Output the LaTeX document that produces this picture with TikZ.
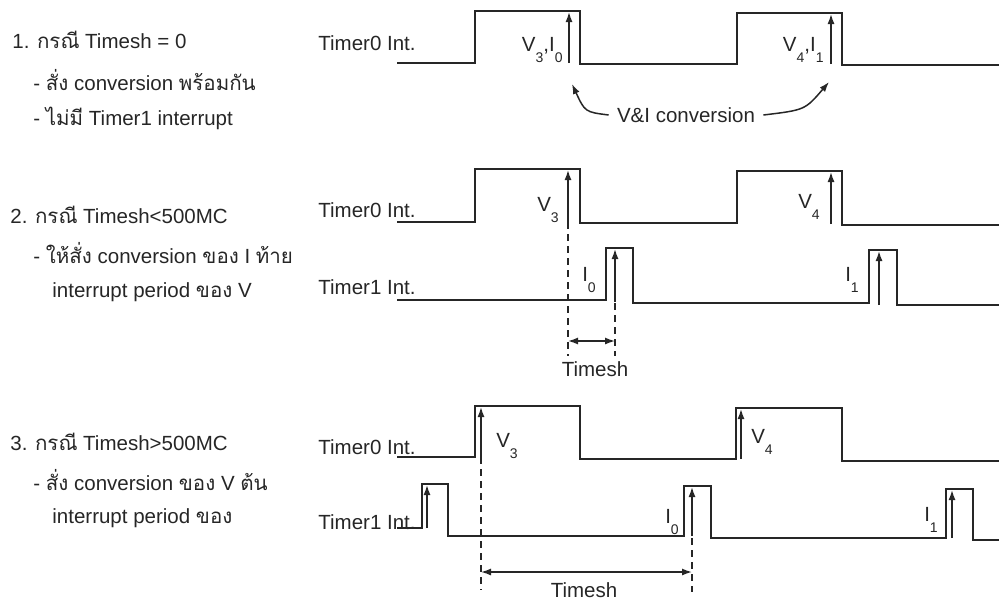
\documentclass[tikz,border=0pt]{standalone}
\usepackage{fontspec}
\setmainfont{Liberation Sans}
\newfontfamily\thai[Script=Thai]{Loma}
\usetikzlibrary{arrows.meta}
\newcommand{\low}[1]{\raisebox{-1ex}{\scriptsize #1}}
\begin{document}
\begin{tikzpicture}[x=0.5pt,y=-0.5pt,
  wave/.style={line width=0.75pt,draw=black!85},
  trig/.style={line width=0.75pt,draw=black!85,-{Latex[length=5pt,width=3.5pt]}},
  guide/.style={line width=0.7pt,draw=black!85,dash pattern=on 3.5pt off 2.5pt},
  span/.style={line width=0.7pt,draw=black!85,{Latex[length=5pt,width=3.5pt]}-{Latex[length=5pt,width=3.5pt]}},
  txt/.style={anchor=west,inner sep=0pt,text=black!85,font=\fontsize{10.25}{12}\selectfont},
  lbl/.style={inner sep=0pt,text=black!85,font=\fontsize{10.25}{12}\selectfont}]
\useasboundingbox (0,0) rectangle (999,600);
% case texts
\node[txt] (c1) at (12,40) {1. {\thai กรณี} Timesh = 0};
\node[txt] (c1a) at (33,80) {- {\thai สั่ง} conversion {\thai พร้อมกัน}};
\node[txt] (c1b) at (33,118) {- {\thai ไม่มี} Timer1 interrupt};
\node[txt] (c2) at (10,215) {2. {\thai กรณี} Timesh<500MC};
\node[txt] (c2a) at (33,253) {- {\thai ให้สั่ง} conversion {\thai ของ} I {\thai ท้าย}};
\node[txt] (c2b) at (52,292) {interrupt period {\thai ของ} V};
\node[txt] (c3) at (10,442) {3. {\thai กรณี} Timesh>500MC};
\node[txt] (c3a) at (33,480) {- {\thai สั่ง} conversion {\thai ของ} V {\thai ต้น}};
\node[txt] (c3b) at (52,518) {interrupt period {\thai ของ}};
% signal names
\node[txt] (t01) at (318,43) {Timer0 Int.};
\node[txt] (t02) at (318,210) {Timer0 Int.};
\node[txt] (t12) at (318,287) {Timer1 Int.};
\node[txt] (t03) at (318,447) {Timer0 Int.};
\node[txt] (t13) at (318,522) {Timer1 Int.};
% case 1
\draw[wave] (397,63) -- (475,63) -- (475,11) -- (580,11) -- (580,64) -- (737,64)
  -- (737,13) -- (842,13) -- (842,65) -- (999,65);
\draw[trig] (569,63) -- (569,12);
\draw[trig] (831,64) -- (831,14);
\node[lbl,anchor=east] (vi1) at (563,50) {V\low{3},I\low{0}};
\node[lbl,anchor=east] (vi2) at (824,50) {V\low{4},I\low{1}};
\node[lbl] (conv) at (686,115) {V\&I conversion};
\draw[trig] ([xshift=-4]conv.west) .. controls (585,112) .. (572,84);
\draw[trig] ([xshift=4]conv.east) .. controls (805,110) .. (829,82);
% case 2
\draw[wave] (397,222) -- (475,222) -- (475,169) -- (580,169) -- (580,223) -- (737,223)
  -- (737,171) -- (842,171) -- (842,225) -- (999,225);
\draw[trig] (568,222) -- (568,170);
\draw[guide] (568,222) -- (568,356);
\draw[trig] (831,224) -- (831,172);
\node[lbl] (v3b) at (548,210) {V\low{3}};
\node[lbl] (v4b) at (809,207) {V\low{4}};
\draw[wave] (397,300) -- (606,300) -- (606,248) -- (633,248) -- (633,303) -- (869,303)
  -- (869,250) -- (897,250) -- (897,305) -- (999,305);
\draw[trig] (615,302) -- (615,249);
\draw[guide] (615,303) -- (615,356);
\draw[trig] (879,305) -- (879,251);
\node[lbl] (i0b) at (589,280) {I\low{0}};
\node[lbl] (i1b) at (852,280) {I\low{1}};
\draw[span] (568,341) -- (615,341);
\node[lbl] (tsb) at (595,369) {Timesh};
% case 3
\draw[wave] (397,457) -- (475,457) -- (475,406) -- (580,406) -- (580,459) -- (736,459)
  -- (736,408) -- (842,408) -- (842,461) -- (999,461);
\draw[trig] (481,457) -- (481,407);
\draw[guide] (481,457) -- (481,590);
\draw[trig] (741,459) -- (741,409);
\node[lbl] (v3c) at (507,446) {V\low{3}};
\node[lbl] (v4c) at (762,442) {V\low{4}};
\draw[wave] (397,528) -- (422,528) -- (422,484) -- (448,484) -- (448,536) -- (684,536)
  -- (684,486) -- (711,486) -- (711,538) -- (946,538) -- (946,489) -- (973,489)
  -- (973,540) -- (999,540);
\draw[trig] (427,528) -- (427,485);
\draw[trig] (692,536) -- (692,487);
\draw[guide] (692,538) -- (692,592);
\draw[trig] (952,538) -- (952,490);
\node[lbl] (i0c) at (672,522) {I\low{0}};
\node[lbl] (i1c) at (931,520) {I\low{1}};
\draw[span] (481,572) -- (692,572);
\node[lbl] (tsc) at (584,590) {Timesh};
\end{tikzpicture}
\end{document}
